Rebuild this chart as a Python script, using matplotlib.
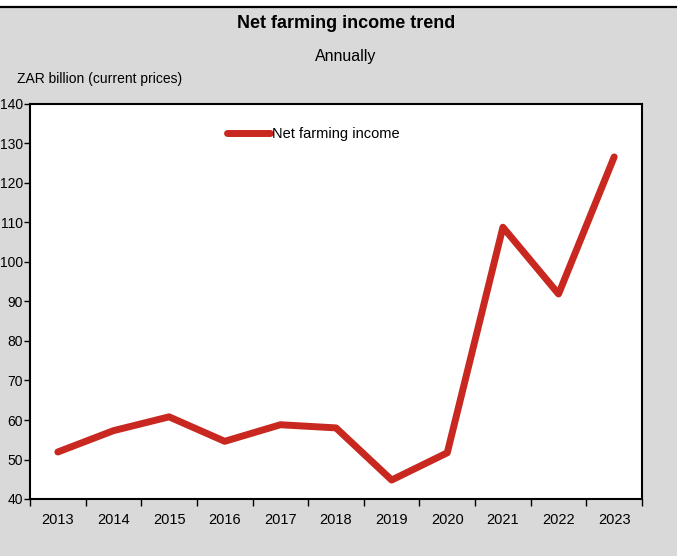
import numpy as np
import matplotlib
matplotlib.use("Agg")
import matplotlib.pyplot as plt
from matplotlib.lines import Line2D
from matplotlib.patches import Rectangle

plt.rcParams["font.family"] = ["Liberation Sans", "DejaVu Sans"]

# Net farming income, ZAR billion (current prices)
years = ["2013", "2014", "2015", "2016", "2017", "2018", "2019", "2020", "2021", "2022", "2023"]
income = [51.9, 57.3, 60.8, 54.6, 58.8, 58.0, 44.8, 51.7, 108.8, 91.9, 126.6]

fig = plt.figure(figsize=(6.77, 5.56), dpi=100, facecolor="#d9d9d9")
ax = fig.add_axes([30 / 677, 1 - 499 / 556, 612 / 677, 395 / 556])

# white strip and black rule at the top
fig.patches.append(Rectangle((0, 1 - 6 / 556), 1, 6 / 556, transform=fig.transFigure,
                             facecolor="white", edgecolor="none"))
fig.lines.append(Line2D([0, 1], [1 - 7 / 556, 1 - 7 / 556], transform=fig.transFigure,
                        color="black", linewidth=1.6))

x = np.arange(len(years))
ax.plot(x, income, color="#c8281f", linewidth=5, solid_capstyle="round",
        solid_joinstyle="round", label="Net farming income")

ax.set_xlim(-0.5, len(years) - 0.5)
ax.set_ylim(40, 140)
ax.set_yticks(range(40, 141, 10))
ax.set_xticks(np.arange(-0.5, len(years), 1))
ax.set_xticklabels([])
ax.set_xticks(x, minor=True)
ax.set_xticklabels(years, minor=True)
ax.tick_params(axis="x", which="major", direction="out", length=5, width=1)
ax.tick_params(axis="x", which="minor", length=0, pad=10, labelsize=10.5)
ax.tick_params(axis="y", direction="out", length=4, width=1, pad=1, labelsize=10)
for s in ax.spines.values():
    s.set_linewidth(1.5)
    s.set_color("black")

leg = ax.legend(loc="upper left", bbox_to_anchor=(0.3, 0.975), frameon=False,
                fontsize=10.5, handlelength=3.0, handletextpad=0.1)

fig.text(0.511, 1 - 23 / 556, "Net farming income trend", ha="center", va="center",
         fontsize=13, fontweight="bold")
fig.text(0.511, 1 - 56 / 556, "Annually", ha="center", va="center", fontsize=11.5)
fig.text(17 / 677, 1 - 79 / 556, "ZAR billion (current prices)", ha="left", va="center",
         fontsize=10)

fig.savefig("out.png", dpi=100, facecolor=fig.get_facecolor())
